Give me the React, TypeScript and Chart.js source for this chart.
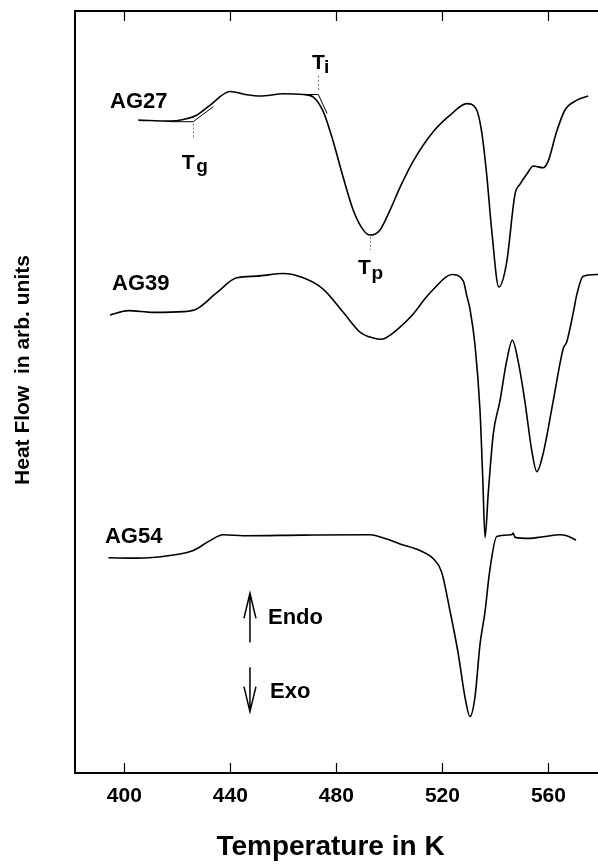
import React, { useEffect, useRef } from "react";
import { Chart, registerables } from "chart.js";

Chart.register(...registerables);

const FONT = "'Liberation Sans', Arial, Helvetica, sans-serif";

// ---- axis ----
const xTickValues = [400, 440, 480, 520, 560];
const xMin = 381.4;
const xMax = 578.7;
const yMin = 0;
const yMax = 773;

// ---- series (temperature in K, heat flow in arb. units) ----
const ag27Temp = [405.3, 417.2, 422.3, 427.3, 432.3, 439.9, 446.2, 451.2, 460, 467.5, 471.3, 475.1, 478.8, 482.6, 486.4, 490.2, 492.7, 496.4, 500.2, 504, 509, 516.6, 522.9, 529.2, 532.7, 534.8, 536.7, 538.6, 541.3, 544.2, 547.4, 549.3, 551.8, 554.3, 558, 559.9, 563.1, 566.2, 570.6, 575];
const ag27Flow = [662.3, 661.3, 663, 667.3, 677.3, 691.3, 688, 686.7, 689, 688.3, 685.7, 670.7, 640.7, 604, 570.7, 550.7, 545.7, 550.7, 570.7, 594, 620.7, 650.7, 667.3, 679, 674, 650.7, 607.3, 550.7, 493, 517.3, 587.3, 597.3, 607.3, 615.7, 614, 620.7, 650.7, 672.3, 682.3, 686.7];

const ag39Temp = [394.6, 401.5, 410.9, 422.3, 427.3, 434.9, 442.4, 449.9, 460, 467.5, 475.1, 482.6, 488.9, 493.9, 497.1, 500.2, 504, 509, 513.4, 516.6, 523.5, 527.9, 529.2, 530.4, 532.3, 534.2, 535.2, 536.1, 537.3, 539.2, 541.7, 544.2, 546.4, 548.6, 551.1, 553.7, 555.6, 558, 561.8, 565.6, 566.9, 569.4, 570.6, 573.1, 578.7];
const ag39Flow = [464.7, 469, 467.3, 468, 470.7, 487.3, 502.3, 504, 506.7, 502.3, 490.7, 467.3, 447.3, 441.3, 440, 444, 452.3, 465.7, 481, 490.7, 505.7, 499, 484, 470.7, 434, 367.3, 300.7, 239, 284, 344, 377.3, 417.3, 439, 417.3, 377.3, 327.3, 305.7, 324, 377.3, 430.7, 437.3, 467.3, 484, 504, 505.7];

const ag54Temp = [394, 404.7, 417.2, 426, 432.3, 437.3, 444.9, 467.5, 492.7, 499, 504, 511.5, 516.6, 519.7, 522.9, 526, 528.5, 530.4, 532.3, 534.2, 536.1, 537.8, 540.5, 546.1, 546.7, 547.4, 553, 558, 564.3, 566.9, 570.4];
const ag54Flow = [218.3, 218, 220.7, 225.7, 235.7, 241.7, 240.7, 241.3, 241.7, 237.3, 232.3, 225.7, 217.3, 204, 164, 120.7, 77.3, 57.3, 77.3, 130.7, 164, 204, 240, 241.7, 243.3, 239, 238, 239.7, 241.7, 240.7, 236.3];

// ---- annotations (data units) ----
const tgTangent = [[417.2, 660.7], [426, 660.7], [433.6, 676]];
const tiTangent = [[467.5, 688.3], [473.2, 688.3], [476.5, 669]];
const tgMarker = [426, 659, 644];
const tiMarker = [473.2, 707.3, 692.3];
const tpMarker = [492.7, 544, 530.7];

const seriesLabels = [
  { text: "AG27", t: 394.6, v: 674.1 },
  { text: "AG39", t: 395.4, v: 490.4 },
  { text: "AG54", t: 392.7, v: 233 },
];
const tempLabels = [
  { sub: "g", t: 421.7, v: 612.3, ts: 427.1, vs: 610 },
  { sub: "i", t: 470.8, v: 714, ts: 475.3, vs: 710 },
  { sub: "p", t: 488.2, v: 506, ts: 493.3, vs: 501.5 },
];
const endoArrow = { t: 447.4, from: 132.3, to: 182.3, label: "Endo", lt: 454.2, lv: 150.7 };
const exoArrow = { t: 447.4, from: 107.3, to: 62.3, label: "Exo", lt: 455.0, lv: 75.7 };

const xTitle = "Temperature in K";
const yTitle = "Heat Flow  in arb. units";

const toPoints = (ts: number[], vs: number[]) => ts.map((t, i) => ({ x: t, y: vs[i] }));

const annotPlugin = {
  id: "annot",
  afterDraw(chart: any) {
    const { ctx, chartArea: a, scales } = chart;
    const X = (t: number) => scales.x.getPixelForValue(t);
    const Y = (v: number) => scales.y.getPixelForValue(v);
    ctx.save();
    ctx.strokeStyle = "#000";
    ctx.fillStyle = "#000";

    // frame
    ctx.lineWidth = 2;
    ctx.beginPath();
    ctx.moveTo(a.right + 4, a.top);
    ctx.lineTo(a.left, a.top);
    ctx.lineTo(a.left, a.bottom);
    ctx.lineTo(a.right + 4, a.bottom);
    ctx.stroke();

    // tick marks (inside)
    ctx.lineWidth = 1.2;
    xTickValues.forEach((v) => {
      const x = Math.round(X(v)) + 0.5;
      ctx.beginPath();
      ctx.moveTo(x, a.bottom);
      ctx.lineTo(x, a.bottom - 10);
      ctx.moveTo(x, a.top);
      ctx.lineTo(x, a.top + 10);
      ctx.stroke();
    });

    // tangents
    ctx.lineWidth = 1;
    [tgTangent, tiTangent].forEach((pts) => {
      ctx.beginPath();
      pts.forEach(([t, v], i) => (i ? ctx.lineTo(X(t), Y(v)) : ctx.moveTo(X(t), Y(v))));
      ctx.stroke();
    });

    // dashed markers
    ctx.save();
    ctx.strokeStyle = "#777";
    ctx.setLineDash([2, 2]);
    [tgMarker, tiMarker, tpMarker].forEach(([t, v0, v1]) => {
      const x = Math.round(X(t)) + 0.5;
      ctx.beginPath();
      ctx.moveTo(x, Y(v0));
      ctx.lineTo(x, Y(v1));
      ctx.stroke();
    });
    ctx.restore();

    // series labels
    ctx.textAlign = "left";
    ctx.textBaseline = "alphabetic";
    ctx.font = `bold 22px ${FONT}`;
    seriesLabels.forEach((l) => ctx.fillText(l.text, X(l.t), Y(l.v)));

    // T labels
    tempLabels.forEach((l) => {
      ctx.font = `bold 21px ${FONT}`;
      ctx.fillText("T", X(l.t), Y(l.v));
      ctx.font = `bold 19px ${FONT}`;
      ctx.fillText(l.sub, X(l.ts), Y(l.vs));
    });

    // arrows
    ctx.lineWidth = 1.5;
    [endoArrow, exoArrow].forEach((ar) => {
      const x = X(ar.t);
      const y0 = Y(ar.from);
      const y1 = Y(ar.to);
      const dir = Math.sign(y1 - y0);
      ctx.beginPath();
      ctx.moveTo(x, y0);
      ctx.lineTo(x, y1);
      ctx.moveTo(x - 6, y1 - dir * 25);
      ctx.lineTo(x, y1);
      ctx.lineTo(x + 6, y1 - dir * 25);
      ctx.stroke();
      ctx.font = `bold 22px ${FONT}`;
      ctx.fillText(ar.label, X(ar.lt), Y(ar.lv));
    });

    // axis titles
    ctx.textAlign = "center";
    ctx.textBaseline = "middle";
    ctx.font = `bold 28px ${FONT}`;
    ctx.fillText(xTitle, (a.left + a.right) / 2 - 6, 847);
    ctx.save();
    ctx.translate(a.left - 52, 370);
    ctx.rotate(-Math.PI / 2);
    ctx.font = `bold 21px ${FONT}`;
    ctx.fillText(yTitle, 0, 0);
    ctx.restore();

    ctx.restore();
  },
};

export default function App() {
  const ref = useRef<HTMLCanvasElement | null>(null);
  useEffect(() => {
    if (!ref.current) return;
    const lineStyle = {
      borderColor: "#000",
      borderWidth: 1.6,
      pointRadius: 0,
      fill: false,
      cubicInterpolationMode: "monotone" as const,
    };
    const chart = new Chart(ref.current, {
      type: "line",
      data: {
        datasets: [
          { label: "AG27", data: toPoints(ag27Temp, ag27Flow), ...lineStyle },
          { label: "AG39", data: toPoints(ag39Temp, ag39Flow), ...lineStyle },
          { label: "AG54", data: toPoints(ag54Temp, ag54Flow), ...lineStyle },
        ],
      },
      options: {
        animation: false,
        responsive: false,
        maintainAspectRatio: false,
        layout: { padding: { left: 75, top: 11, right: 0, bottom: 44.8 } },
        plugins: { legend: { display: false }, tooltip: { enabled: false } },
        scales: {
          x: {
            type: "linear",
            min: xMin,
            max: xMax,
            afterBuildTicks: (s: any) => {
              s.ticks = xTickValues.map((v) => ({ value: v }));
            },
            grid: { display: false, drawTicks: false },
            border: { display: false },
            ticks: {
              font: { family: FONT, size: 21, weight: "bold" },
              color: "#000",
              padding: 11,
              maxRotation: 0,
              autoSkip: false,
            },
          },
          y: { display: false, min: yMin, max: yMax },
        },
      },
      plugins: [annotPlugin],
    });
    return () => chart.destroy();
  }, []);
  return (
    <div style={{ position: "fixed", left: 0, top: 0, width: 598, height: 865, background: "#fff", overflow: "hidden" }}>
      <canvas ref={ref} width={598} height={865} style={{ display: "block" }} />
    </div>
  );
}
